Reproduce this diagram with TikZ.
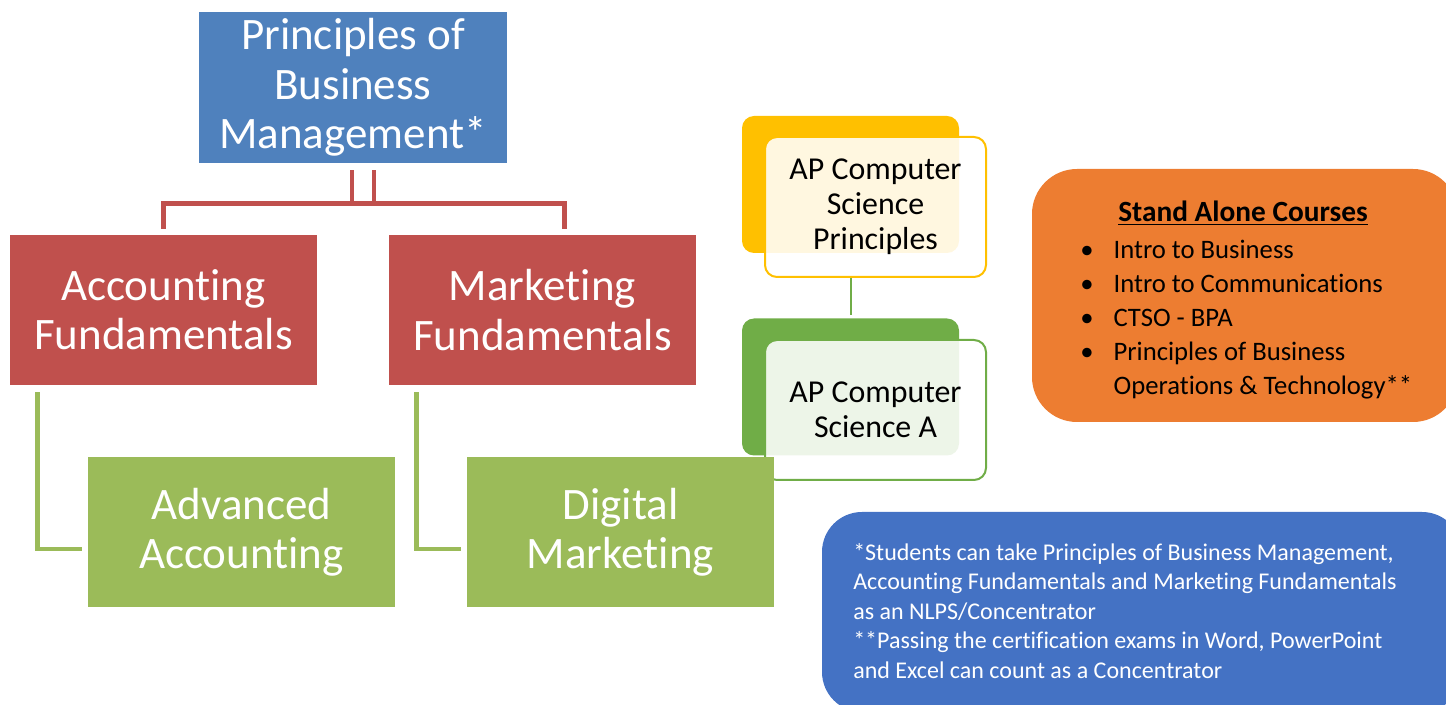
\documentclass[tikz,border=0pt]{standalone}
\usepackage{fontspec}
\setmainfont[Ligatures=NoCommon]{Carlito}
\usetikzlibrary{calc}

\definecolor{coreblue}{HTML}{4F81BD}
\definecolor{fundred}{HTML}{C0504D}
\definecolor{advgreen}{HTML}{9BBB59}
\definecolor{apyellow}{HTML}{FFC000}
\definecolor{apgreen}{HTML}{70AD47}
\definecolor{saorange}{HTML}{ED7D31}
\definecolor{noteblue}{HTML}{4472C4}

\def\pxsize{0.75pt}
\newcommand\saitem{\makebox[25pt][l]{\textbullet}}

\begin{document}
\begin{tikzpicture}[x=\pxsize, y=-\pxsize]
    \tikzstyle{course}=[rectangle, inner sep=0pt, text=white, align=center,
        minimum width=230.25pt, minimum height=112.5pt,
        font=\fontsize{33.75}{37}\selectfont]
    \tikzstyle{core course}=[course, fill=coreblue, minimum width=231pt, minimum height=113.25pt]
    \tikzstyle{fund course}=[course, fill=fundred]
    \tikzstyle{adv course}=[course, fill=advgreen]

    \tikzstyle{ap back}=[rectangle, rounded corners=9pt, minimum width=162.75pt, minimum height=102.75pt]
    \tikzstyle{ap front}=[rectangle, rounded corners=9pt, minimum width=165.75pt, minimum height=105pt,
        line width=1.5pt, fill=white, fill opacity=0.88, text opacity=1, align=center,
        font=\fontsize{23.9}{26.25}\selectfont]

    \tikzstyle{fund line}=[draw=fundred, line width=3.5pt]
    \tikzstyle{adv line}=[draw=advgreen, line width=3.5pt]

    \path[use as bounding box, clip] (0,0) rectangle (1446,705);

    % core and fundamentals
    \node[core course] (pbm) at (353,87.5) {Principles of\\Business\\Management*};
    \node[fund course] (acc) at (163.5,310) {Accounting\\Fundamentals};
    \node[fund course] (mkt) at (542.5,310) {Marketing\\Fundamentals};

    \draw[fund line] ([shift={(21,7)}]pbm.south) -- ++(0,33) -| ([yshift=6*\pxsize]acc.north);
    \draw[fund line] ([shift={(-1,7)}]pbm.south) -- ++(0,33) -| ([shift={(22,-6)}]mkt.north);

    % AP computer science
    \node[ap back, fill=apyellow] (csp-b) at (850.5,184.5) {};
    \node[ap front, draw=apyellow] (csp) at (875.5,207) {AP Computer\\Science\\Principles};
    \node[ap back, fill=apgreen] (csa-b) at (850.5,387) {};
    \node[ap front, draw=apgreen] (csa) at (875.5,410) {AP Computer\\Science A};

    \draw[draw=apgreen, line width=1.5pt] (csp-b.center |- csp.south) -- ([yshift=3*\pxsize]csa-b.north);

    % advanced
    \node[adv course] (adv) at (241.5,532) {Advanced\\Accounting};
    \node[adv course] (dig) at (620.5,532) {Digital\\Marketing};

    \foreach \source / \dest in {acc/adv, mkt/dig}
        \draw[adv line] ([shift={(28,7)}]\source.south west) |- ([shift={(-6,17)}]\dest.west);

    % stand alone courses
    \node[rectangle, rounded corners=33.75pt, fill=saorange, minimum width=319.5pt,
        minimum height=189.75pt] (sa) at (1245,295.5) {};
    \node[font=\fontsize{22}{26}\selectfont\bfseries] (sa-title) at (1243,213) {\underline{Stand Alone Courses}};
    \node[anchor=north west, align=left, inner sep=0pt, font=\fontsize{20}{25.5}\selectfont] (sa-list)
        at (1080,240) {\saitem Intro to Business\\
            \saitem Intro to Communications\\
            \saitem CTSO - BPA\\
            \saitem Principles of Business\\
            \hspace*{25pt}Operations \& Technology**};

    % notes
    \node[rectangle, rounded corners=30pt, fill=noteblue, minimum width=480pt,
        minimum height=150pt] (notes) at (1142,612) {};
    \node[anchor=north west, align=left, inner sep=0pt, text=white,
        font=\fontsize{18}{22.1}\selectfont] (notes-text) at (853,543)
        {*Students can take Principles of Business Management,\\
         Accounting Fundamentals and Marketing Fundamentals\\
         as an NLPS/Concentrator\\
         **Passing the certification exams in Word, PowerPoint\\
         and Excel can count as a Concentrator};
\end{tikzpicture}
\end{document}
